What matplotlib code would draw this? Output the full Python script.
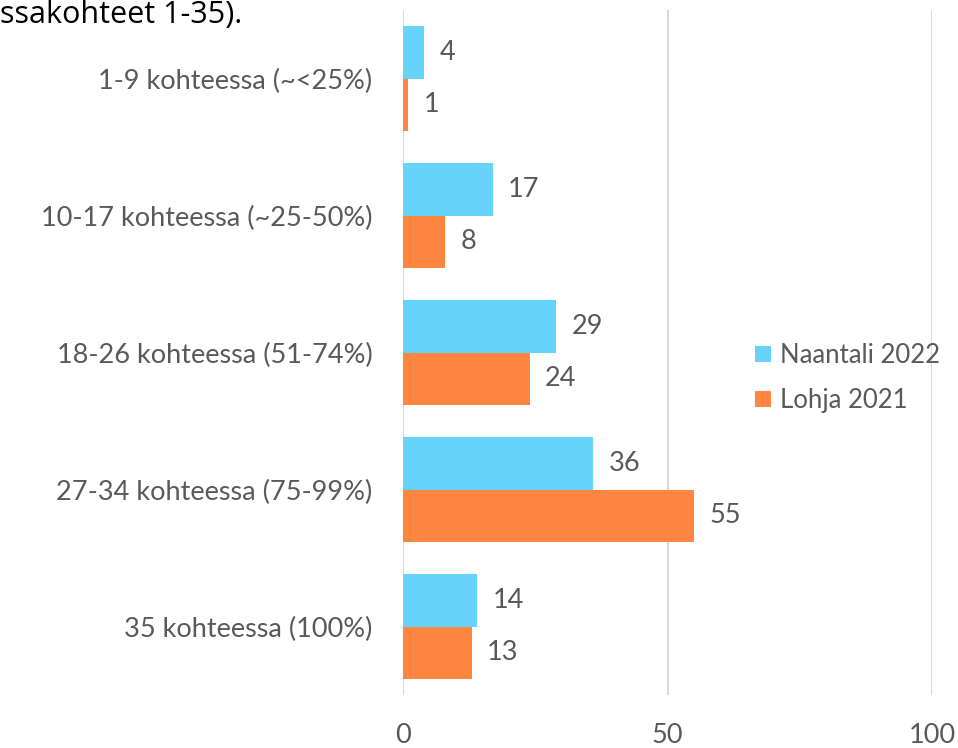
import matplotlib.pyplot as plt
import numpy as np

categories = ["1-9 kohteessa (~<25%)", "10-17 kohteessa (~25-50%)",
              "18-26 kohteessa (51-74%)", "27-34 kohteessa (75-99%)",
              "35 kohteessa (100%)"]
naantali = [4, 17, 29, 36, 14]
lohja = [1, 8, 24, 55, 13]
series_names = ["Naantali 2022", "Lohja 2021"]
xticks = [0, 50, 100]

plt.rcParams['font.family'] = ['Lato', 'DejaVu Sans']
gray = '#595959'
blue = '#66D3FA'
orange = '#FF8640'
fs = 19.5

fig = plt.figure(figsize=(9.58, 7.48), dpi=100)
ax = fig.add_axes([403/958, 1 - 695/748, 529/958, 685/748])

y = np.arange(len(categories))
h = 0.38
b1 = ax.barh(y - h/2, naantali, height=h, color=blue, label=series_names[0], zorder=3)
b2 = ax.barh(y + h/2, lohja, height=h, color=orange, label=series_names[1], zorder=3)

for bars in (b1, b2):
    for bar in bars:
        w = bar.get_width()
        ax.annotate(f"{w:g}", (w, bar.get_y() + bar.get_height()/2),
                    xytext=(11, 0), textcoords='offset points',
                    va='center', ha='left', fontsize=fs, color=gray)

ax.set_xlim(0, 100)
ax.set_ylim(len(categories) - 0.5, -0.5)
ax.set_yticks(y)
ax.set_yticklabels(categories, fontsize=fs, color=gray)
ax.set_xticks(xticks)
ax.set_xticklabels([str(t) for t in xticks], fontsize=fs, color=gray)
ax.tick_params(axis='both', length=0)
ax.tick_params(axis='x', pad=20)
ax.tick_params(axis='y', pad=22)
ax.grid(axis='x', color='#d9d9d9', linewidth=1.5, zorder=0)
for s in ax.spines.values():
    s.set_visible(False)

fig.legend(handles=[b1, b2], loc='center left', bbox_to_anchor=(732/958, 1 - 378/748),
           frameon=False, fontsize=18.5, labelcolor=gray, handlelength=0.6,
           handleheight=0.6, handletextpad=0.35, labelspacing=0.8)

fig.text(0.0, 1.0, "ssakohteet 1-35).", fontsize=22, color='black',
         ha='left', va='top', family=['Open Sans', 'DejaVu Sans'])

fig.savefig("out.png", dpi=100)
